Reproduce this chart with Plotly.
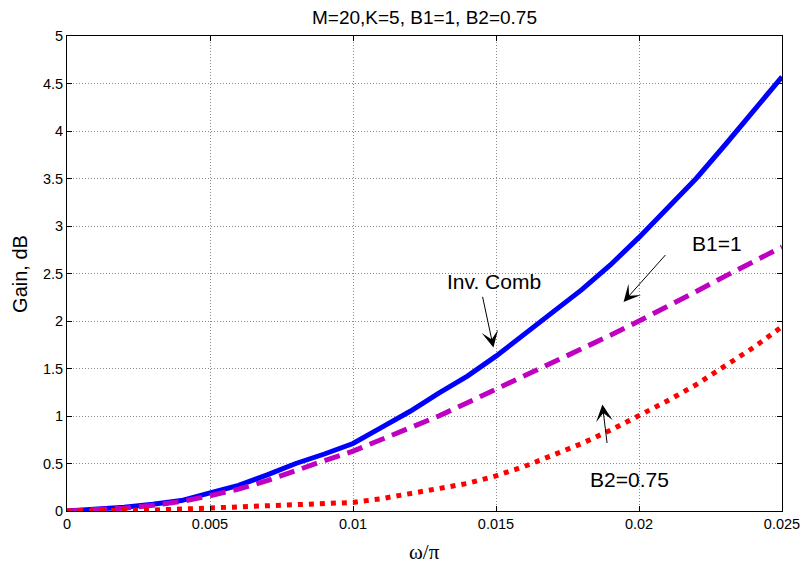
import plotly.graph_objects as go

# ---- data ----
freq = [0.000, 0.001, 0.002, 0.003, 0.004, 0.005, 0.006, 0.007, 0.008, 0.009,
        0.010, 0.011, 0.012, 0.013, 0.014, 0.015, 0.016, 0.017, 0.018, 0.019,
        0.020, 0.021, 0.022, 0.023, 0.024, 0.025]
gain_inv_comb = [0.00, 0.015, 0.04, 0.07, 0.11, 0.19, 0.27, 0.38, 0.50, 0.60,
                 0.71, 0.88, 1.05, 1.24, 1.42, 1.63, 1.86, 2.10, 2.33, 2.59,
                 2.88, 3.19, 3.50, 3.85, 4.20, 4.57]
gain_b1 = [0.00, 0.01, 0.03, 0.06, 0.10, 0.16, 0.23, 0.32, 0.43, 0.53,
           0.63, 0.75, 0.87, 1.00, 1.14, 1.28, 1.42, 1.56, 1.71, 1.85,
           2.00, 2.15, 2.31, 2.47, 2.62, 2.78]
gain_b2 = [0.00, 0.00, 0.005, 0.01, 0.02, 0.03, 0.04, 0.05, 0.06, 0.075,
           0.09, 0.13, 0.18, 0.23, 0.29, 0.37, 0.47, 0.59, 0.71, 0.85,
           1.00, 1.16, 1.33, 1.52, 1.72, 1.94]

x_tickvals = [0, 0.005, 0.01, 0.015, 0.02, 0.025]
x_ticktext = ["0", "0.005", "0.01", "0.015", "0.02", "0.025"]
y_tickvals = [0, 0.5, 1, 1.5, 2, 2.5, 3, 3.5, 4, 4.5, 5]
y_ticktext = ["0", "0.5", "1", "1.5", "2", "2.5", "3", "3.5", "4", "4.5", "5"]

title_text = "M=20,K=5, B1=1, B2=0.75"
x_label = "ω/π"
y_label = "Gain, dB"

# labels: (text, x, y)
labels = [("Inv. Comb", 0.01494, 2.42), ("B1=1", 0.02271, 2.82), ("B2=0.75", 0.01968, 0.33)]
# arrows: (head_x, head_y, tail_x, tail_y)
arrows = [(0.01491, 1.72, 0.01452, 2.27),
          (0.01946, 2.20, 0.02097, 2.71),
          (0.01872, 1.12, 0.01889, 0.70)]

SANS = "Liberation Sans, Arial, Helvetica, sans-serif"
SERIF = "Liberation Serif, Times New Roman, serif"

fig = go.Figure()
fig.add_trace(go.Scatter(x=freq, y=gain_inv_comb, mode="lines",
                         line=dict(color="#0000FF", width=5), name="Inv. Comb"))
fig.add_trace(go.Scatter(x=freq, y=gain_b1, mode="lines",
                         line=dict(color="#C000C0", width=5, dash="16px,8px"), name="B1=1"))
fig.add_trace(go.Scatter(x=freq, y=gain_b2, mode="lines",
                         line=dict(color="#FF0000", width=5, dash="5px,6px"), name="B2=0.75"))

annotations = []
for t, x, y in labels:
    annotations.append(dict(x=x, y=y, xref="x", yref="y", text=t, showarrow=False,
                            font=dict(family=SANS, size=21, color="black")))
for hx, hy, tx, ty in arrows:
    annotations.append(dict(x=hx, y=hy, xref="x", yref="y", ax=tx, ay=ty,
                            axref="x", ayref="y", text="", showarrow=True,
                            arrowhead=3, arrowsize=2.8, arrowwidth=1, arrowcolor="black"))
annotations.append(dict(x=0.5, y=-0.086, xref="paper", yref="paper", text=x_label,
                        showarrow=False, font=dict(family=SERIF, size=21, color="black"),
                        xanchor="center", yanchor="middle"))
annotations.append(dict(x=-0.0666, y=0.5, xref="paper", yref="paper", text=y_label,
                        showarrow=False, textangle=-90,
                        font=dict(family=SANS, size=20, color="black"),
                        xanchor="center", yanchor="middle"))

axis_common = dict(showline=True, linecolor="black", linewidth=1, mirror="ticks",
                   ticks="inside", ticklen=5, tickcolor="black", tickwidth=1,
                   showgrid=True, gridcolor="#8a8a8a", gridwidth=1, griddash="1px,2px",
                   zeroline=False, tickfont=dict(family=SANS, size=14.5, color="black"))

# page body has an 8px default margin, so the figure is sized/offset to compensate
fig.update_layout(
    width=804, height=555,
    margin=dict(l=59, r=24, t=28, b=52),
    paper_bgcolor="white", plot_bgcolor="white",
    showlegend=False,
    title=dict(text=title_text, x=0.5, xref="paper", xanchor="center",
               y=1 - 9 / 555, yref="container", yanchor="middle",
               font=dict(family=SANS, size=19, color="black")),
    xaxis=dict(range=[0, 0.025], tickvals=x_tickvals, ticktext=x_ticktext, **axis_common),
    yaxis=dict(range=[0, 5], tickvals=y_tickvals, ticktext=y_ticktext, **axis_common),
    annotations=annotations,
)

fig.write_html("out.html")
